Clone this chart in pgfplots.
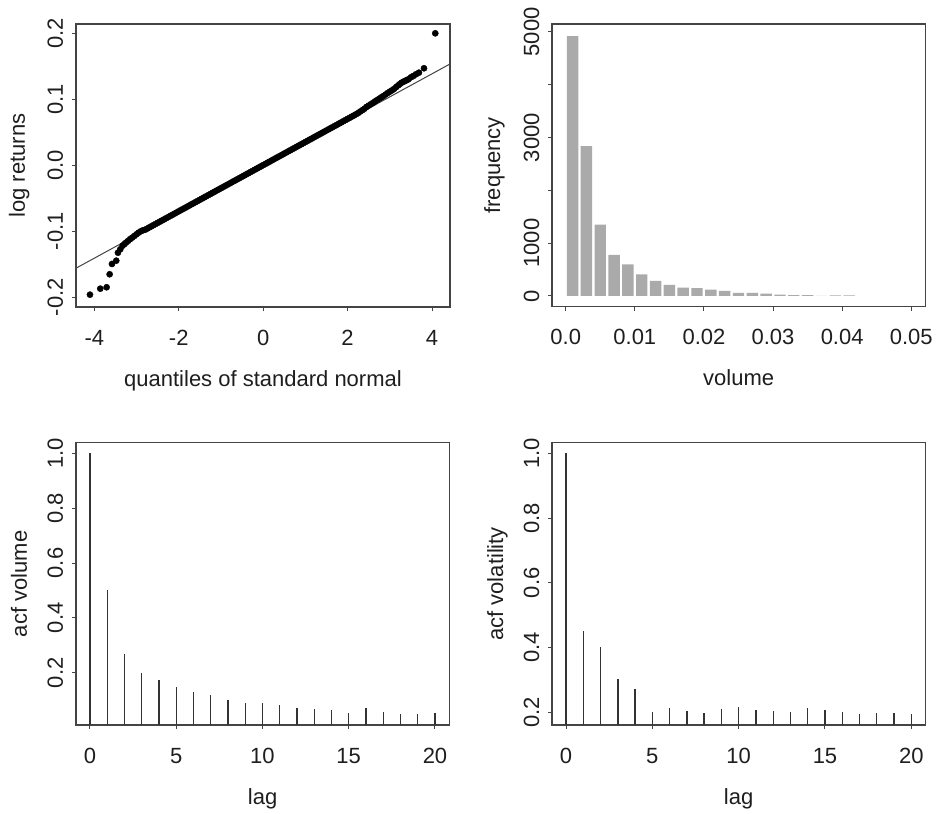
\documentclass[border=0pt]{standalone}
\usepackage{fontspec}
\setmainfont{Liberation Sans}
\usepackage{pgfplots}
\pgfplotsset{compat=1.18}
\definecolor{axgray}{HTML}{444444}
\definecolor{txt}{HTML}{1E1E1E}
\definecolor{histgray}{HTML}{AAAAAA}
\newcommand{\rfont}{\fontsize{22pt}{26pt}\selectfont}
\pgfplotsset{
  rplot/.style={
    scale only axis,
    axis line style={draw=axgray, line width=1.4pt},
    every tick/.style={draw=axgray, line width=1pt},
    tick align=outside,
    major tick length=4pt,
    xtick pos=left, ytick pos=left,
    minor tick num=0,
    /pgf/number format/assume math mode=true,
    tick label style={font=\rfont, text=txt},
    label style={font=\rfont, text=txt},
    xticklabel style={anchor=base, yshift=-34pt},
    yticklabel style={xshift=-9pt, rotate=90, anchor=base},
    xlabel style={at={(axis description cs:0.5,0)}, anchor=base, yshift=-79pt},
  }
}
\begin{document}
\begin{tikzpicture}
\useasboundingbox (0,0) rectangle (936pt,-813pt);
% ---------------- QQ plot
\begin{axis}[rplot, at={(76pt,-307pt)}, anchor=south west,
  width=374pt, height=283pt,
  xmin=-4.434, xmax=4.426, ymin=-0.2147, ymax=0.2141,
  xtick={-4,-2,0,2,4}, xticklabels={-4,-2,0,2,4},
  ytick={-0.2,-0.1,0,0.1,0.2}, yticklabels={-0.2,-0.1,0.0,0.1,0.2},
  xlabel={quantiles of standard normal},
  ylabel={log returns},
  ylabel style={at={([xshift=-51pt]axis description cs:0,0.5)}, anchor=base},
]
\addplot[only marks, mark=*, mark size=3.1pt, black] coordinates {
(-4.103,-0.1960) (-3.859,-0.1869) (-3.708,-0.1848) (-3.637,-0.1651)
(-3.582,-0.1495) (-3.480,-0.1445) (-3.440,-0.1324) (-3.385,-0.1272)
(-3.329,-0.1218) (-3.290,-0.1195) (-3.250,-0.1172) (-3.200,-0.1145)
(-3.150,-0.1118) (-3.100,-0.1095) (-3.050,-0.1070) (-3.000,-0.1045)
(-2.950,-0.1020) (-2.900,-0.1000) (-2.850,-0.0985)
(-2.80,-0.0977) (-2.75,-0.0960) (-2.70,-0.0942) (-2.65,-0.0925) (-2.60,-0.0907)
(-2.55,-0.0890) (-2.50,-0.0872) (-2.45,-0.0855) (-2.40,-0.0837) (-2.35,-0.0820)
(-2.30,-0.0802) (-2.25,-0.0785) (-2.20,-0.0767) (-2.15,-0.0750) (-2.10,-0.0732)
(-2.05,-0.0715) (-2.00,-0.0697) (-1.95,-0.0680) (-1.90,-0.0662) (-1.85,-0.0645)
(-1.80,-0.0627) (-1.75,-0.0610) (-1.70,-0.0592) (-1.65,-0.0575) (-1.60,-0.0557)
(-1.55,-0.0540) (-1.50,-0.0522) (-1.45,-0.0505) (-1.40,-0.0487) (-1.35,-0.0470)
(-1.30,-0.0452) (-1.25,-0.0435) (-1.20,-0.0417) (-1.15,-0.0400) (-1.10,-0.0382)
(-1.05,-0.0365) (-1.00,-0.0347) (-0.95,-0.0330) (-0.90,-0.0312) (-0.85,-0.0295)
(-0.80,-0.0277) (-0.75,-0.0260) (-0.70,-0.0242) (-0.65,-0.0225) (-0.60,-0.0207)
(-0.55,-0.0190) (-0.50,-0.0172) (-0.45,-0.0155) (-0.40,-0.0137) (-0.35,-0.0120)
(-0.30,-0.0102) (-0.25,-0.0085) (-0.20,-0.0067) (-0.15,-0.0050) (-0.10,-0.0032)
(-0.05,-0.0015) (0.00,0.0003) (0.05,0.0020) (0.10,0.0038) (0.15,0.0055)
(0.20,0.0073) (0.25,0.0090) (0.30,0.0108) (0.35,0.0125) (0.40,0.0143)
(0.45,0.0160) (0.50,0.0178) (0.55,0.0195) (0.60,0.0213) (0.65,0.0230)
(0.70,0.0248) (0.75,0.0265) (0.80,0.0283) (0.85,0.0300) (0.90,0.0318)
(0.95,0.0335) (1.00,0.0353) (1.05,0.0370) (1.10,0.0388) (1.15,0.0405)
(1.20,0.0423) (1.25,0.0440) (1.30,0.0458) (1.35,0.0475) (1.40,0.0493)
(1.45,0.0510) (1.50,0.0528) (1.55,0.0545) (1.60,0.0563) (1.65,0.0580)
(1.70,0.0598) (1.75,0.0615) (1.80,0.0633) (1.85,0.0650) (1.90,0.0668)
(1.95,0.0685) (2.00,0.0703) (2.05,0.0720) (2.10,0.0738) (2.15,0.0755)
(2.20,0.0773) (2.25,0.0792)
(2.30,0.0815) (2.35,0.0835) (2.40,0.0858) (2.45,0.0885) (2.50,0.0905)
(2.55,0.0925) (2.60,0.0945) (2.65,0.0968) (2.70,0.0988) (2.75,0.1010)
(2.80,0.1030) (2.85,0.1050) (2.90,0.1073) (2.95,0.1095) (3.00,0.1116)
(3.05,0.1135) (3.10,0.1157) (3.15,0.1185) (3.20,0.1212) (3.24,0.1232)
(3.28,0.1252) (3.32,0.1265) (3.36,0.1278) (3.40,0.1290) (3.44,0.1303)
(3.50,0.1333) (3.556,0.1353) (3.62,0.1379) (3.69,0.1404) (3.81,0.1470)
(4.077,0.2000)
};
\addplot[axgray, line width=1pt] coordinates {(-4.434,-0.1559) (4.426,0.1535)};
\end{axis}
% ---------------- histogram
\begin{axis}[rplot, at={(552pt,-306.7pt)}, anchor=south west,
  width=373.3pt, height=282.7pt,
  xmin=-0.00198, xmax=0.05203, ymin=-203, ymax=5151,
  xtick={0,0.01,0.02,0.03,0.04,0.05}, xticklabels={0.0,0.01,0.02,0.03,0.04,0.05},
  ytick={0,1000,2000,3000,4000,5000}, yticklabels={0,1000,,3000,,5000},
  scaled ticks=false,
  xlabel={volume},
  ylabel={frequency},
  ylabel style={at={([xshift=-52pt]axis description cs:0,0.5)}, anchor=base},
  bar width=0.00165,
]
\addplot[ybar, fill=histgray, draw=none] coordinates {
(0.001,4920) (0.003,2840) (0.005,1350) (0.007,780) (0.009,600)
(0.011,410) (0.013,285) (0.015,210) (0.017,160) (0.019,150)
(0.021,120) (0.023,95) (0.025,60) (0.027,58) (0.029,45)
(0.031,28) (0.033,14) (0.035,14) (0.037,4) (0.039,12) (0.041,12)
};
\end{axis}
% ---------------- acf volume
\begin{axis}[rplot, at={(76pt,-725pt)}, anchor=south west,
  width=373.3pt, height=282.3pt,
  xmin=-0.81, xmax=20.83, ymin=0.0093, ymax=1.0387,
  xtick={0,5,10,15,20}, xticklabels={0,5,10,15,20},
  ytick={0.2,0.4,0.6,0.8,1.0}, yticklabels={0.2,0.4,0.6,0.8,1.0},
  xlabel={lag},
  ylabel={acf volume},
  ylabel style={at={([xshift=-49pt]axis description cs:0,0.5)}, anchor=base},
]
\addplot[ycomb, draw=black!80, line width=1.4pt] coordinates {
(0,1.000) (1,0.501) (2,0.268) (3,0.198) (4,0.173) (5,0.149) (6,0.131)
(7,0.117) (8,0.100) (9,0.089) (10,0.089) (11,0.083) (12,0.072) (13,0.066)
(14,0.065) (15,0.054) (16,0.073) (17,0.056) (18,0.049) (19,0.049) (20,0.054)
};
\end{axis}
% ---------------- acf volatility
\begin{axis}[rplot, at={(552pt,-725pt)}, anchor=south west,
  width=373.3pt, height=282.3pt,
  xmin=-0.811, xmax=20.81, ymin=0.161, ymax=1.033,
  xtick={0,5,10,15,20}, xticklabels={0,5,10,15,20},
  ytick={0.2,0.4,0.6,0.8,1.0}, yticklabels={0.2,0.4,0.6,0.8,1.0},
  xlabel={lag},
  ylabel={acf volatility},
  ylabel style={at={([xshift=-49pt]axis description cs:0,0.5)}, anchor=base},
]
\addplot[ycomb, draw=black!80, line width=1.4pt] coordinates {
(0,1.000) (1,0.451) (2,0.401) (3,0.302) (4,0.271) (5,0.201) (6,0.215)
(7,0.205) (8,0.199) (9,0.209) (10,0.217) (11,0.207) (12,0.205) (13,0.201)
(14,0.215) (15,0.207) (16,0.200) (17,0.195) (18,0.197) (19,0.199) (20,0.195)
};
\end{axis}
\end{tikzpicture}
\end{document}
